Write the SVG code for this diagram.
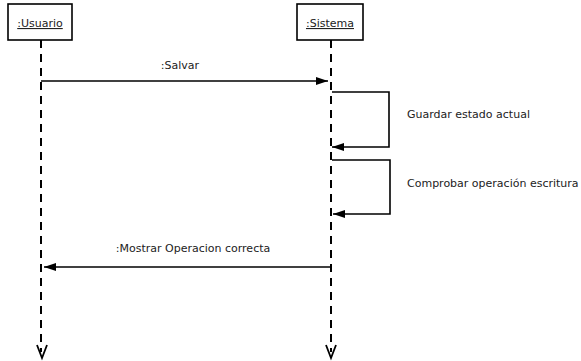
<svg xmlns="http://www.w3.org/2000/svg" width="581" height="361" viewBox="0 0 581 361">
<defs>
<style>
text{font-family:"DejaVu Sans","Liberation Sans",sans-serif;font-size:11px;fill:#222}
.box{fill:#fff;stroke:#000;stroke-width:1.6}
.life{stroke:#000;stroke-width:2;stroke-dasharray:8 6;fill:none}
.msg{stroke:#000;stroke-width:1.6;fill:none}
.end{stroke:#000;stroke-width:1.8;fill:none}
</style>
<marker id="arr" markerWidth="12" markerHeight="8" refX="12" refY="4" orient="auto" markerUnits="userSpaceOnUse">
<path d="M0,0 L12,4 L0,8 Z" fill="#000"/>
</marker>
</defs>
<rect width="581" height="361" fill="#fff"/>
<g id="usuario">
<rect class="box" x="8" y="4" width="64" height="36"/>
<text x="40" y="27" text-anchor="middle" text-decoration="underline">:Usuario</text>
<path class="life" d="M41,40 V352"/>
<path class="end" d="M37,345 L42,358 L47,345"/>
</g>
<g id="sistema">
<rect class="box" x="297" y="4" width="66" height="36"/>
<text x="330" y="27" text-anchor="middle" text-decoration="underline">:Sistema</text>
<path class="life" d="M331,40 V352"/>
<path class="end" d="M326,345 L331,358 L336,345"/>
</g>
<g id="connectors">
<path class="msg" d="M41,81 H328" marker-end="url(#arr)"/>
<text x="180" y="69" text-anchor="middle">:Salvar</text>
<path class="msg" d="M332,92 H389 V147 H332" marker-end="url(#arr)"/>
<text x="407" y="118">Guardar estado actual</text>
<path class="msg" d="M332,160 H390 V214 H333" marker-end="url(#arr)"/>
<text x="407" y="187">Comprobar operación escritura</text>
<path class="msg" d="M330,267 H44" marker-end="url(#arr)"/>
<text x="193" y="252" text-anchor="middle">:Mostrar Operacion correcta</text>
</g>
</svg>
